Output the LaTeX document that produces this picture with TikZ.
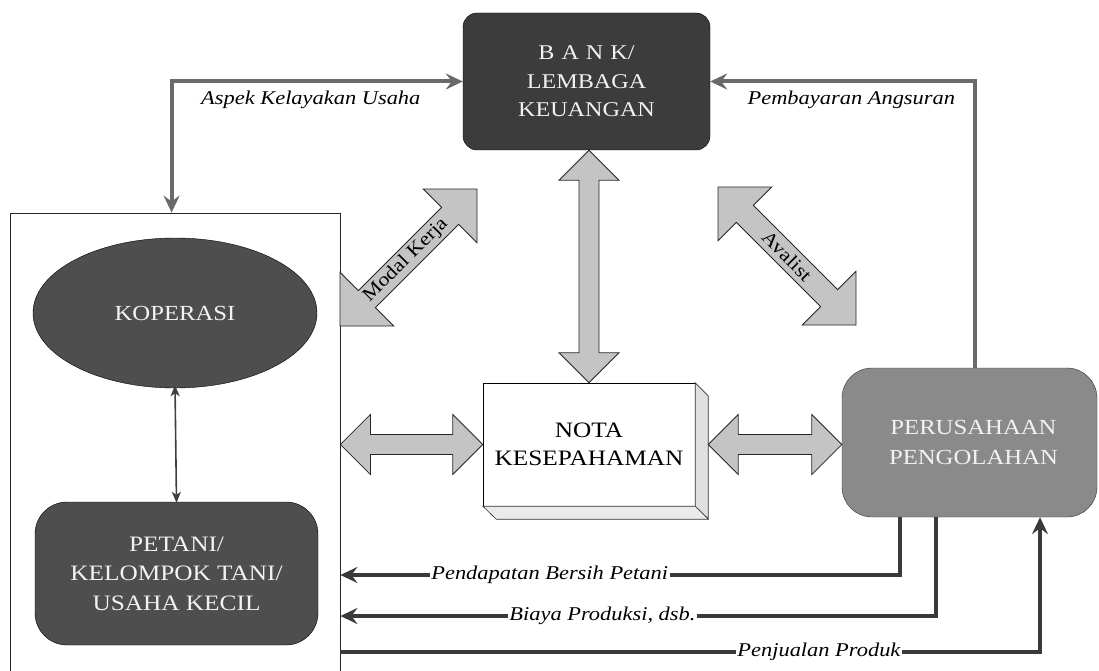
\documentclass[tikz,border=0pt]{standalone}
\usepackage{fontspec}
\setmainfont{Liberation Serif}[FakeStretch=1.15]
\usetikzlibrary{arrows.meta,calc,shapes.geometric}

\definecolor{bankfill}{HTML}{3C3C3C}
\definecolor{darkfill}{HTML}{4E4E4E}
\definecolor{perfill}{HTML}{8A8A8A}
\definecolor{arrowfill}{HTML}{C4C4C4}
\definecolor{linegray}{HTML}{6A6A6A}
\definecolor{linedark}{HTML}{3A3A3A}
\definecolor{boxtext}{HTML}{F2F2F2}

% fat double arrow between two named points:
% #1, #2 tips; #3 head length (= half head width); #4 half shaft width
\newcommand\fatarrow[4]{%
  \filldraw[fatarrowstyle]
    (#1) -- ($(#1)!#3!(#2)!#3!90:(#2)$) -- ($(#1)!#3!(#2)!#4!90:(#2)$)
    -- ($(#2)!#3!(#1)!#4!-90:(#1)$) -- ($(#2)!#3!(#1)!#3!-90:(#1)$)
    -- (#2) -- ($(#2)!#3!(#1)!#3!90:(#1)$) -- ($(#2)!#3!(#1)!#4!90:(#1)$)
    -- ($(#1)!#3!(#2)!#4!-90:(#2)$) -- ($(#1)!#3!(#2)!#3!-90:(#2)$) -- cycle;}

\tikzset{
  conntip/.tip={Stealth[length=17pt,width=16pt,inset=6pt]},
  smalltip/.tip={Stealth[length=11pt,width=9pt,inset=3pt]},
  fatarrowstyle/.style={fill=arrowfill, draw=black!85, line width=0.8pt, line join=miter},
  boxlabel/.style={text=boxtext, align=center},
  grayconn/.style={line width=4pt, draw=linegray},
  darkconn/.style={line width=4.5pt, draw=linedark},
  flowlabel/.style={fill=white, inner sep=1.5pt, font=\fontsize{19.5}{22}\selectfont\itshape},
  toplabel/.style={anchor=base, yshift=-23.5pt, inner sep=0pt,
                   font=\fontsize{19.5}{22}\selectfont\itshape},
  arrowtext/.style={font=\fontsize{19}{21}\selectfont, inner sep=0pt},
}

\begin{document}
\begin{tikzpicture}[x=1pt,y=-1pt]
\useasboundingbox (0,0) rectangle (1099,671);

% group frame around the farmer side (open at the bottom)
\node[draw=black!85, line width=0.8pt, minimum width=330pt, minimum height=480pt,
      inner sep=0pt] (grp) at (175,453) {};

% main boxes
\node[boxlabel, fill=bankfill, draw=black, rounded corners=14pt,
      minimum width=247pt, minimum height=137pt,
      font=\fontsize{21}{28.5}\selectfont] (bank) at (586.5,81.5)
  {B\kern7pt A\kern7pt N\kern7pt K/\\LEMBAGA\\KEUANGAN};

\node[boxlabel, ellipse, fill=darkfill, draw=black,
      minimum width=284pt, minimum height=150pt, inner sep=0pt,
      font=\fontsize{21.5}{26}\selectfont] (kop) at (175,313)
  {KOPERASI};

\node[boxlabel, fill=darkfill, draw=black, rounded corners=32pt,
      minimum width=283pt, minimum height=143pt,
      font=\fontsize{22}{29.5}\selectfont] (pet) at (176.5,573.5)
  {PETANI/\\KELOMPOK TANI/\\USAHA KECIL};

\node[boxlabel, fill=perfill, draw=black!80, rounded corners=30pt,
      minimum width=255pt, minimum height=149pt,
      font=\fontsize{21.5}{30}\selectfont] (per) at (969.5,442.5)
  {\hspace*{8pt}PERUSAHAAN\\\hspace*{8pt}PENGOLAHAN};

% memorandum box with its depth faces
\node[draw=black, fill=white, minimum width=212pt, minimum height=123pt,
      align=center, font=\fontsize{22}{27.5}\selectfont] (nota) at (589,444.5)
  {NOTA\\KESEPAHAMAN};
\filldraw[fill=black!12, draw=black!80, line width=0.6pt]
  (nota.north east) -- ++(13,13) -- ++(0,123) -- (nota.south east) -- cycle;
\filldraw[fill=black!8, draw=black!80, line width=0.6pt]
  (nota.south west) -- (nota.south east) -- ++(13,13) -- ++(-212,0) -- cycle;

% anchor points for the fat arrows
\coordinate (bankS) at (bank.south -| nota.north);
\coordinate (grpE) at (grp.east |- nota.west);
\coordinate (notaE) at ([xshift=13pt]nota.east);
\coordinate (perW) at (per.west |- nota.east);
\coordinate (mkA) at (340,326);
\coordinate (mkB) at (477,189);
\coordinate (avA) at (718,187);
\coordinate (avB) at (856,325);

% fat double arrows
\fatarrow{bankS}{nota.north}{30pt}{10pt}
\fatarrow{grpE}{nota.west}{30pt}{10pt}
\fatarrow{notaE}{perW}{30pt}{10pt}
\fatarrow{mkA}{mkB}{38pt}{12pt}
\fatarrow{avA}{avB}{38pt}{12pt}
\path (mkA) -- (mkB) node[pos=0.48, sloped, arrowtext] {Modal Kerja};
\path (avA) -- (avB) node[midway, sloped, arrowtext] {Avalist};

% upper flows
\draw[grayconn, conntip-conntip] ([xshift=162pt]grp.north west) |- (bank.west)
  node[pos=0.739, toplabel] {Aspek Kelayakan Usaha};
\draw[grayconn, -conntip] ([xshift=5pt]per.north) |- (bank.east)
  node[pos=0.733, toplabel] {Pembayaran Angsuran};

% cooperative <-> farmers
\draw[line width=1.6pt, draw=black!75, smalltip-smalltip]
  ([yshift=3pt]kop.south) -- ([yshift=-1pt]pet.north);

% lower flows
\draw[darkconn, -conntip] ([xshift=-69.5pt]per.south) |- (grp.east |- 0,575)
  node[pos=0.813, flowlabel] {Pendapatan Bersih Petani};
\draw[darkconn, -conntip] ([xshift=-33.5pt]per.south) |- (grp.east |- 0,616)
  node[pos=0.78, flowlabel] {Biaya Produksi, dsb.};
\draw[darkconn, -conntip] (grp.east |- 0,652) -| ([xshift=70.5pt]per.south)
  node[pos=0.342, flowlabel] {Penjualan Produk};
\end{tikzpicture}
\end{document}
